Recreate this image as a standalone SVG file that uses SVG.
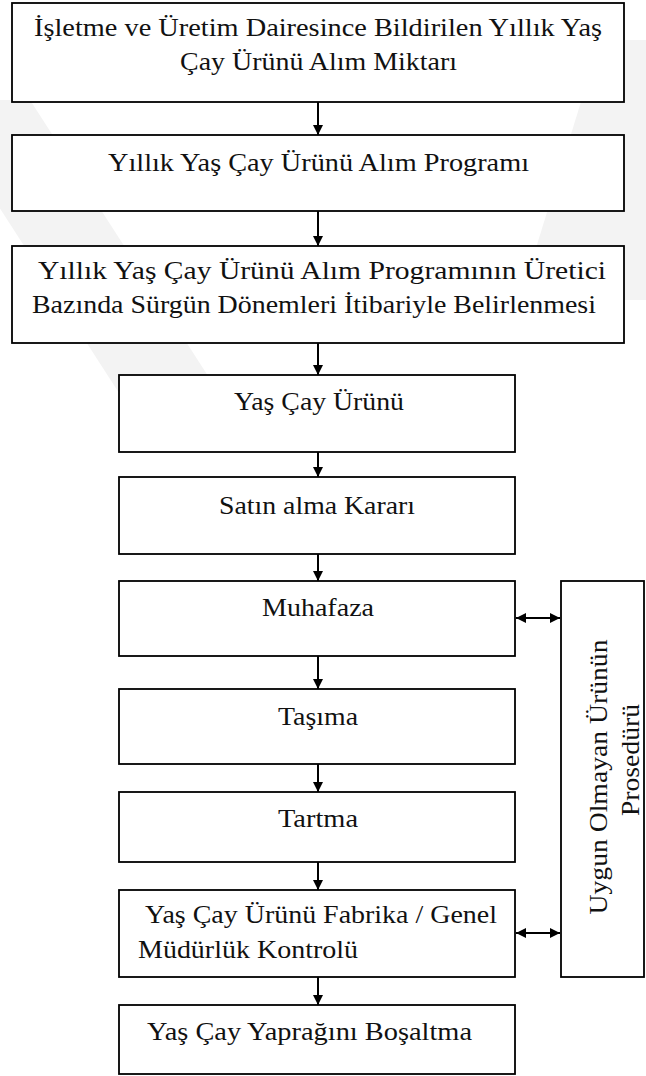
<svg xmlns="http://www.w3.org/2000/svg" width="646" height="1076" viewBox="0 0 646 1076">
  <defs>
    <marker id="head" viewBox="0 0 10 10" refX="10" refY="5" markerWidth="10" markerHeight="10" markerUnits="userSpaceOnUse" orient="auto-start-reverse">
      <path d="M0,0 L10,5 L0,10 Z" fill="#000"/>
    </marker>
    <style>
      .box { fill: #fff; stroke: #000; stroke-width: 1.8; }
      .lbl { font-family: "Liberation Serif", "Times New Roman", serif; font-size: 26px; fill: #111; }
      .mid { text-anchor: middle; }
      .conn { stroke: #000; stroke-width: 2; fill: none; }
      .band { fill: #f3f3f3; }
    </style>
  </defs>
  <rect width="646" height="1076" fill="#fff"/>

  <!-- faint background stripes -->
  <g id="backdrop">
    <polygon class="band" points="-70,100 30,100 230,410 130,410"/>
    <polygon class="band" points="600,40 720,40 650,300 520,300"/>
  </g>

  <g id="n1">
    <rect class="box" x="12" y="3" width="612" height="99"/>
    <text class="lbl mid" x="318" y="36" textLength="568" lengthAdjust="spacingAndGlyphs">İşletme ve Üretim Dairesince Bildirilen Yıllık Yaş</text>
    <text class="lbl mid" x="318.5" y="70" textLength="277" lengthAdjust="spacingAndGlyphs">Çay Ürünü Alım Miktarı</text>
  </g>
  <g id="n2">
    <rect class="box" x="12" y="135" width="612" height="76"/>
    <text class="lbl mid" x="318.5" y="171" textLength="421" lengthAdjust="spacingAndGlyphs">Yıllık Yaş Çay Ürünü Alım Programı</text>
  </g>
  <g id="n3">
    <rect class="box" x="12" y="246" width="612" height="97"/>
    <text class="lbl mid" x="322" y="279" textLength="568" lengthAdjust="spacingAndGlyphs">Yıllık Yaş Çay Ürünü Alım Programının Üretici</text>
    <text class="lbl mid" x="314" y="313" textLength="564" lengthAdjust="spacingAndGlyphs">Bazında Sürgün Dönemleri İtibariyle Belirlenmesi</text>
  </g>
  <g id="n4">
    <rect class="box" x="119" y="375" width="396" height="77"/>
    <text class="lbl mid" x="319" y="410" textLength="170" lengthAdjust="spacingAndGlyphs">Yaş Çay Ürünü</text>
  </g>
  <g id="n5">
    <rect class="box" x="119" y="477" width="396" height="77"/>
    <text class="lbl mid" x="317" y="514" textLength="196" lengthAdjust="spacingAndGlyphs">Satın alma Kararı</text>
  </g>
  <g id="n6">
    <rect class="box" x="119" y="581" width="396" height="75"/>
    <text class="lbl mid" x="318" y="616" textLength="112" lengthAdjust="spacingAndGlyphs">Muhafaza</text>
  </g>
  <g id="n7">
    <rect class="box" x="119" y="689" width="396" height="75"/>
    <text class="lbl mid" x="318" y="725" textLength="80" lengthAdjust="spacingAndGlyphs">Taşıma</text>
  </g>
  <g id="n8">
    <rect class="box" x="119" y="792" width="396" height="70"/>
    <text class="lbl mid" x="318" y="827" textLength="80" lengthAdjust="spacingAndGlyphs">Tartma</text>
  </g>
  <g id="n9">
    <rect class="box" x="119" y="890" width="396" height="87"/>
    <text class="lbl" x="145" y="923" textLength="352" lengthAdjust="spacingAndGlyphs">Yaş Çay Ürünü Fabrika / Genel</text>
    <text class="lbl" x="138" y="958" textLength="220" lengthAdjust="spacingAndGlyphs">Müdürlük Kontrolü</text>
  </g>
  <g id="n10">
    <rect class="box" x="119" y="1005" width="396" height="69"/>
    <text class="lbl" x="147" y="1040" textLength="325" lengthAdjust="spacingAndGlyphs">Yaş Çay Yaprağını Boşaltma</text>
  </g>
  <g id="side">
    <rect class="box" x="561" y="581" width="83" height="396"/>
    <text class="lbl mid" transform="translate(607,777) rotate(-90)" textLength="275" lengthAdjust="spacingAndGlyphs">Uygun Olmayan Ürünün</text>
    <text class="lbl mid" transform="translate(639,760) rotate(-90)" textLength="112" lengthAdjust="spacingAndGlyphs">Prosedürü</text>
  </g>

  <g id="connectors">
    <line class="conn" x1="318" y1="102" x2="318" y2="135" marker-end="url(#head)"/>
    <line class="conn" x1="318" y1="211" x2="318" y2="246" marker-end="url(#head)"/>
    <line class="conn" x1="318" y1="343" x2="318" y2="375" marker-end="url(#head)"/>
    <line class="conn" x1="318" y1="452" x2="318" y2="477" marker-end="url(#head)"/>
    <line class="conn" x1="318" y1="554" x2="318" y2="581" marker-end="url(#head)"/>
    <line class="conn" x1="318" y1="656" x2="318" y2="689" marker-end="url(#head)"/>
    <line class="conn" x1="318" y1="764" x2="318" y2="792" marker-end="url(#head)"/>
    <line class="conn" x1="318" y1="862" x2="318" y2="890" marker-end="url(#head)"/>
    <line class="conn" x1="318" y1="977" x2="318" y2="1005" marker-end="url(#head)"/>
    <line class="conn" x1="516" y1="618" x2="560" y2="618" marker-start="url(#head)" marker-end="url(#head)"/>
    <line class="conn" x1="516" y1="933" x2="560" y2="933" marker-start="url(#head)" marker-end="url(#head)"/>
  </g>
</svg>
